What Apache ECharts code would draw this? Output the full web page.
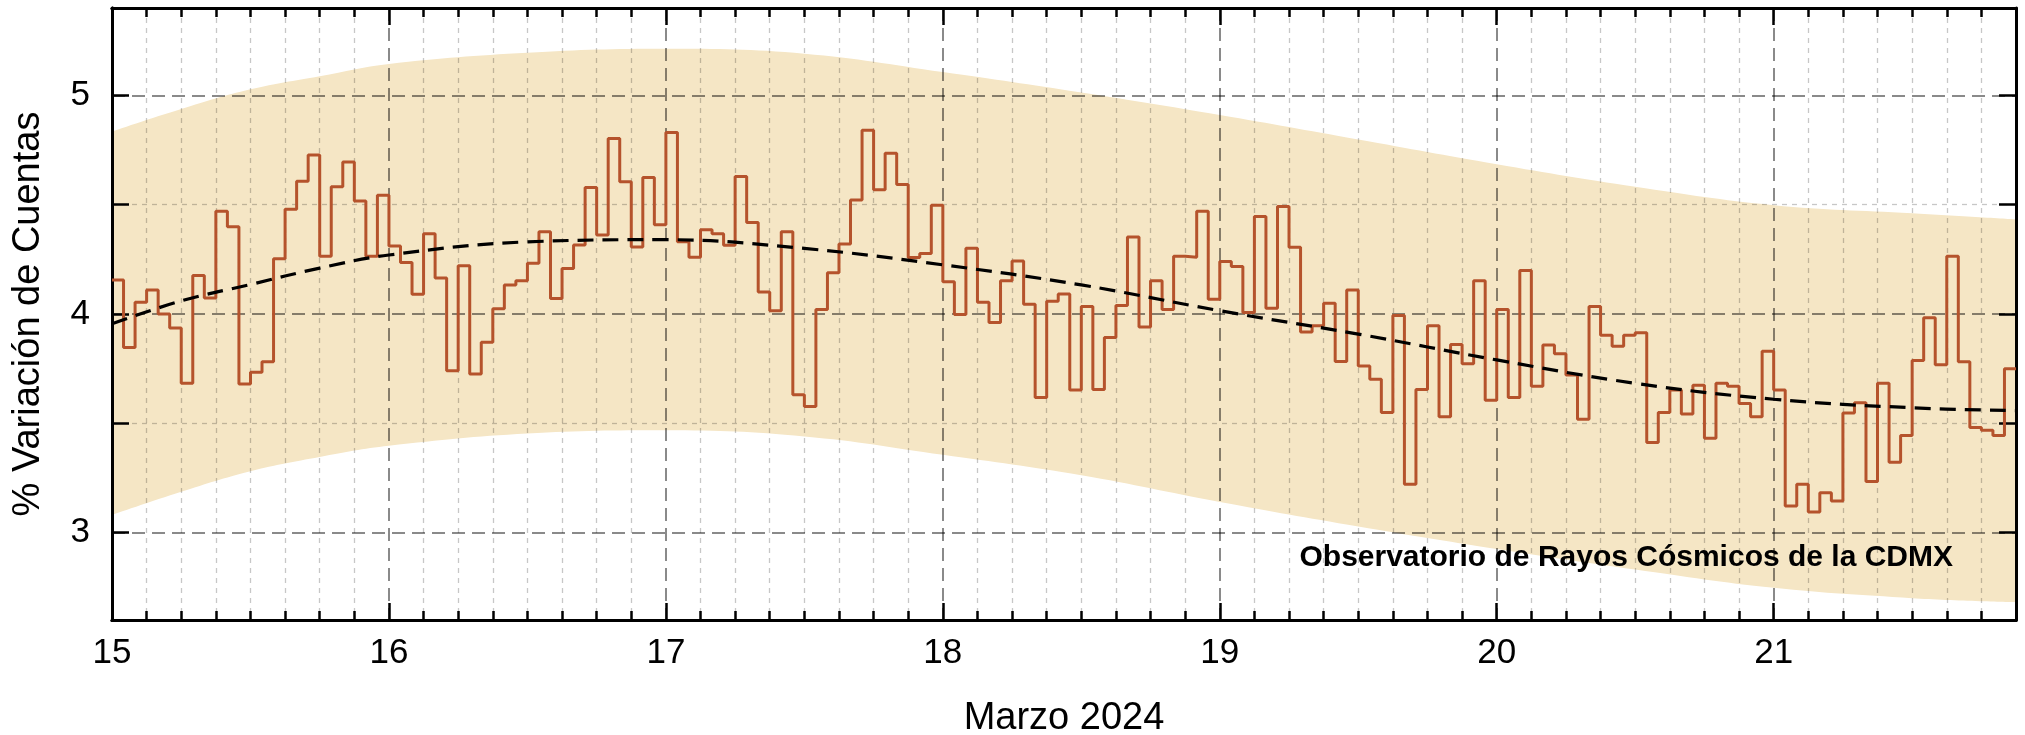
<!DOCTYPE html>
<html>
<head>
<meta charset="utf-8">
<title>Observatorio de Rayos Cósmicos de la CDMX</title>
<script src="https://cdn.jsdelivr.net/npm/echarts@6/dist/echarts.min.js"></script>
<style>
  html, body { margin: 0; padding: 0; background: #fff; }
  #main { width: 2025px; height: 735px; }
</style>
</head>
<body>
<div id="main"></div>
<script>
// variación de cuentas (%), un valor por hora desde el 15 de marzo 00:00
var cuentas = [
  4.155, 3.847, 4.054, 4.110, 4.000, 3.936, 3.683, 4.176, 4.073, 4.470, 4.399, 3.680,
  3.734, 3.781, 4.253, 4.479, 4.607, 4.728, 4.264, 4.582, 4.695, 4.517, 4.264, 4.543,
  4.311, 4.236, 4.090, 4.367, 4.165, 3.740, 4.221, 3.725, 3.871, 4.024, 4.133, 4.152,
  4.232, 4.376, 4.071, 4.208, 4.316, 4.579, 4.361, 4.803, 4.605, 4.307, 4.624, 4.408,
  4.830, 4.330, 4.260, 4.386, 4.367, 4.315, 4.629, 4.419, 4.101, 4.015, 4.376, 3.631,
  3.577, 4.021, 4.189, 4.320, 4.522, 4.841, 4.569, 4.736, 4.592, 4.258, 4.277, 4.498,
  4.148, 3.998, 4.301, 4.054, 3.961, 4.152, 4.242, 4.045, 3.618, 4.058, 4.092, 3.652,
  4.034, 3.655, 3.893, 4.039, 4.352, 3.940, 4.152, 4.021, 4.264, 4.260, 4.470, 4.067,
  4.240, 4.217, 4.007, 4.446, 4.026, 4.492, 4.305, 3.918, 3.946, 4.049, 3.783, 4.110,
  3.762, 3.702, 3.549, 3.993, 3.221, 3.655, 3.946, 3.530, 3.861, 3.772, 4.152, 3.605,
  4.021, 3.618, 4.199, 3.670, 3.858, 3.818, 3.721, 3.519, 4.034, 3.903, 3.852, 3.903,
  3.914, 3.412, 3.549, 3.652, 3.543, 3.674, 3.431, 3.683, 3.669, 3.590, 3.530, 3.830,
  3.652, 3.122, 3.221, 3.094, 3.182, 3.144, 3.547, 3.594, 3.234, 3.683, 3.322, 3.444,
  3.787, 3.983, 3.768, 4.264, 3.781, 3.481, 3.468, 3.444, 3.749
];
var diaInicio = 15;
var diaFin = 21.875;

// tendencia (línea punteada) y banda
var curvaX    = [15, 15.25, 15.5, 15.75, 16, 16.5, 17, 17.5, 18, 18.5, 19, 19.5, 20, 20.5, 21, 21.5, 21.875];
var tendencia = [3.955, 4.06, 4.135, 4.21, 4.27, 4.33, 4.34, 4.30, 4.225, 4.133, 4.015, 3.908, 3.79, 3.683, 3.61, 3.571, 3.558];
var bandaSup  = [4.835, 4.938, 5.028, 5.088, 5.144, 5.195, 5.213, 5.191, 5.107, 5.013, 4.910, 4.798, 4.685, 4.582, 4.498, 4.461, 4.433];
var bandaInf  = [3.081, 3.187, 3.281, 3.346, 3.397, 3.453, 3.468, 3.440, 3.356, 3.262, 3.140, 3.028, 2.925, 2.831, 2.747, 2.700, 2.682];

// marcas de los ejes
var dias = [15, 16, 17, 18, 19, 20, 21];
var yMarcas = [3, 4, 5];
var yMedios = [3.5, 4.5];
var yTodas = [3, 3.5, 4, 4.5, 5];

var cada3h = [];
for (var t = diaInicio; t < diaFin; t += 0.125) {
  if (t % 1 !== 0) cada3h.push(t);
}

var fuente = "'Liberation Sans', Arial, sans-serif";
// las rejillas van encima de la banda, con transparencia
var gridMayor = { show: true, lineStyle: { color: 'rgba(0,0,0,0.46)', width: 2, type: [13, 7] } };
var gridMenor = { show: true, lineStyle: { color: 'rgba(0,0,0,0.22)', width: 1.3, type: [5, 5] } };
var ejeNegro = { show: true, onZero: false, lineStyle: { color: '#000', width: 3 } };

function ejeX(pos, ticks, largo, split, etiquetas) {
  return {
    type: 'value', position: pos, min: diaInicio, max: diaFin, z: 1,
    axisLine: ejeNegro,
    axisTick: { show: true, inside: true, length: largo, customValues: ticks, lineStyle: { color: '#000', width: 2.5 } },
    axisLabel: etiquetas ? { show: true, customValues: dias, margin: 16, color: '#000', fontSize: 35, fontFamily: fuente } : { show: false },
    splitLine: split || { show: false }
  };
}

function ejeY(pos, ticks, split, etiquetas) {
  return {
    type: 'value', position: pos, min: 2.6, max: 5.4, z: 1,
    axisLine: ejeNegro,
    axisTick: { show: true, inside: true, length: 17, customValues: ticks, lineStyle: { color: '#000', width: 2.5 } },
    axisLabel: etiquetas ? { show: true, customValues: yMarcas, margin: 22, color: '#000', fontSize: 35, fontFamily: fuente } : { show: false },
    splitLine: split || { show: false }
  };
}

var ejesX = [
  ejeX('bottom', dias, 17, gridMayor, true),
  ejeX('bottom', cada3h, 9, gridMenor, false),
  ejeX('top', dias, 17, null, false),
  ejeX('top', cada3h, 9, null, false)
];
ejesX[0].name = 'Marzo 2024';
ejesX[0].nameLocation = 'middle';
ejesX[0].nameGap = 80;
ejesX[0].nameTextStyle = { color: '#000', fontSize: 38, fontFamily: fuente };

var ejesY = [
  ejeY('left', yMarcas, gridMayor, true),
  ejeY('left', yMedios, gridMenor, false),
  ejeY('right', yTodas, null, false)
];
ejesY[0].name = '% Variación de Cuentas';
ejesY[0].nameLocation = 'middle';
ejesY[0].nameGap = 64;
ejesY[0].nameTextStyle = { color: '#000', fontSize: 38, fontFamily: fuente };

var puntosPaso = cuentas.map(function (v, h) { return [diaInicio + h / 24, v]; });
puntosPaso.push([diaFin, cuentas[cuentas.length - 1]]);

var colorBanda = '#f5e6c5';

var myChart = echarts.init(document.getElementById('main'), null, { renderer: 'canvas' });
myChart.setOption({
  animation: false,
  backgroundColor: '#fff',
  grid: { left: 112, right: 9, top: 8, bottom: 115, containLabel: false, outerBoundsMode: 'none' },
  xAxis: ejesX,
  yAxis: ejesY,
  graphic: [{
    type: 'text', x: 1953, y: 558, z: 10,
    style: {
      text: 'Observatorio de Rayos Cósmicos de la CDMX',
      fill: '#000', font: "bold 30px 'Liberation Sans', Arial, sans-serif",
      textAlign: 'right', textVerticalAlign: 'middle'
    }
  }],
  series: [
    {
      // borde superior de la banda, relleno hasta abajo
      type: 'line', smooth: 0.4, symbol: 'none', silent: true, z: 0,
      lineStyle: { width: 0, opacity: 0 },
      areaStyle: { color: colorBanda, opacity: 1, origin: 'start' },
      data: curvaX.map(function (x, i) { return [x, bandaSup[i]]; })
    },
    {
      // borde inferior, se recubre de blanco
      type: 'line', smooth: 0.4, symbol: 'none', silent: true, z: 0,
      lineStyle: { width: 0, opacity: 0 },
      areaStyle: { color: '#fff', opacity: 1, origin: 'start' },
      data: curvaX.map(function (x, i) { return [x, bandaInf[i]]; })
    },
    {
      type: 'line', step: 'end', symbol: 'none', z: 3,
      lineStyle: { color: '#b5532c', width: 3 },
      data: puntosPaso
    },
    {
      type: 'line', smooth: 0.4, symbol: 'none', z: 4,
      lineStyle: { color: '#000', width: 3.2, type: [16, 9] },
      data: curvaX.map(function (x, i) { return [x, tendencia[i]]; })
    }
  ]
});
</script>
</body>
</html>
